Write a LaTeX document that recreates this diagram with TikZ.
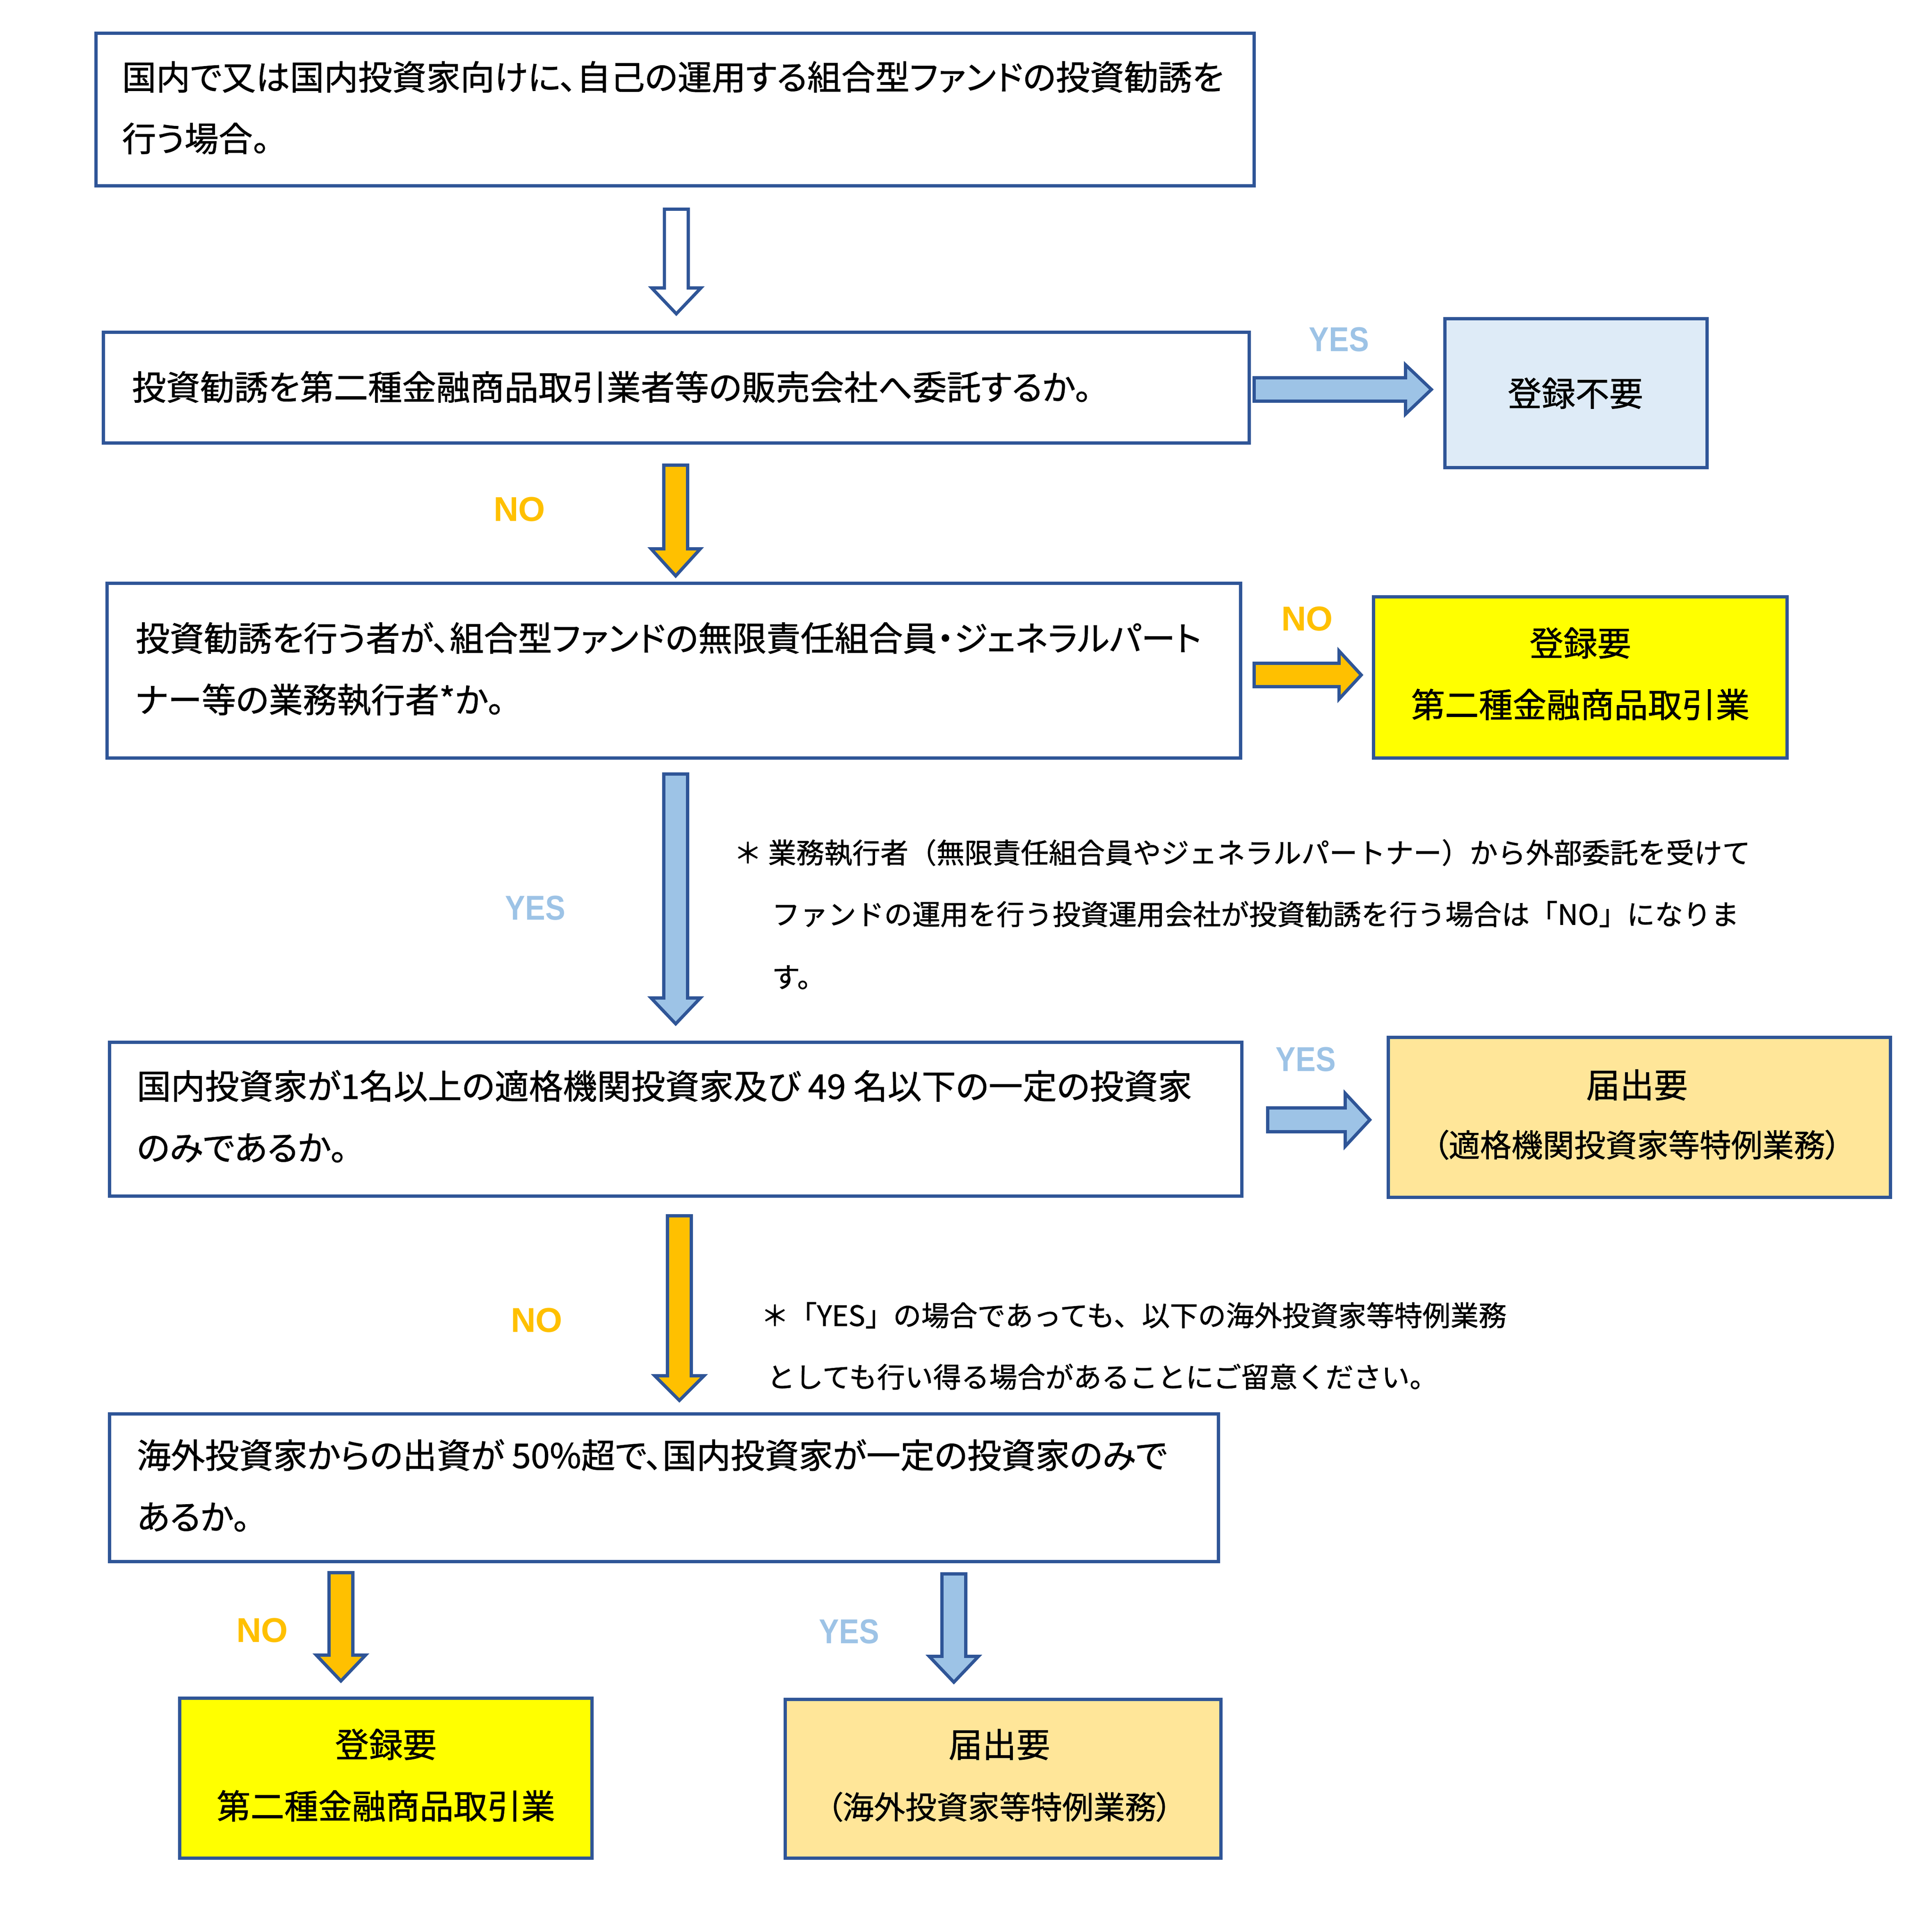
\documentclass[tikz,border=0pt]{standalone}
\usepackage{fontspec}
\setmainfont{Noto Sans CJK JP}[RawFeature=+palt, FakeBold=1]
\newfontfamily\notefont{Noto Sans CJK JP}[FakeBold=1]
\newfontfamily\lblfont{Liberation Sans Bold}
\newfontfamily\yesfont{Liberation Sans Bold}[FakeStretch=0.87]
\usetikzlibrary{fit}
\definecolor{dblue}{HTML}{2F5597}
\definecolor{lblue}{HTML}{9DC3E6}
\definecolor{aorange}{HTML}{FFC000}
\definecolor{boxlb}{HTML}{DEEBF7}
\definecolor{byellow}{HTML}{FFFF00}
\definecolor{peach}{HTML}{FFE699}
\tikzset{
  box/.style={draw=dblue, line width=2.6pt, inner sep=0pt},
  jtxt/.style={anchor=base west, inner sep=0pt, font=\fontsize{27.7}{27.7}\selectfont},
  ctxt/.style={anchor=base, inner sep=0pt, font=\fontsize{27.5}{27.5}\selectfont},
  csmall/.style={anchor=base, inner sep=0pt, font=\fontsize{25.5}{25.5}\selectfont},
  notetxt/.style={anchor=base west, inner sep=0pt, font=\notefont\fontsize{22.8}{22.8}\selectfont},
  yeslbl/.style={inner sep=0pt, text=lblue, font=\yesfont\fontsize{28}{28}\selectfont},
  nolbl/.style={inner sep=0pt, text=aorange, font=\lblfont\fontsize{28}{28}\selectfont},
  arr/.style={draw=dblue, line width=2.6pt, line join=miter}
}
\newcommand\darrow[5]{%
  \draw[arr, fill=#5] ({#1-9.7},{#2}) -- ({#1+9.7},{#2}) -- ({#1+9.7},{#3}) -- ({#1+20},{#3})
    -- ({#1},{#4}) -- ({#1-20},{#3}) -- ({#1-9.7},{#3}) -- cycle;}
\newcommand\rarrow[7]{%
  \draw[arr, fill=#5] ({#1},{#4-#6}) -- ({#2},{#4-#6}) -- ({#2},{#4-#7}) -- ({#3},{#4})
    -- ({#2},{#4+#7}) -- ({#2},{#4+#6}) -- ({#1},{#4+#6}) -- cycle;}
\begin{document}
\begin{tikzpicture}[x=1pt, y=-1pt]
\useasboundingbox (0,0) rectangle (1559.67,1570);
% boxes
\node[box, fill=white, fit={(78,27) (1019,151)}] (b1) {};
\node[box, fill=white, fit={(84,270) (1015,360)}] (b2) {};
\node[box, fill=boxlb, fit={(1174,259) (1387,380)}] (r1) {};
\node[box, fill=white, fit={(87,474) (1008,616)}] (b3) {};
\node[box, fill=byellow, fit={(1116,485) (1452,616)}] (r2) {};
\node[box, fill=white, fit={(89,847) (1009,972)}] (b4) {};
\node[box, fill=peach, fit={(1128,843) (1536,973)}] (r3) {};
\node[box, fill=white, fit={(89,1149) (990,1269)}] (b5) {};
\node[box, fill=byellow, fit={(146,1380) (481,1510)}] (r4) {};
\node[box, fill=peach, fit={(638,1381) (992,1510)}] (r5) {};
% box texts
\node[jtxt] (t1a) at (99,73) {国内で又は国内投資家向けに、自己の運用する組合型ファンドの投資勧誘を};
\node[jtxt] (t1b) at (99,123) {行う場合。};
\node[jtxt] (t2a) at (107,325) {投資勧誘を第二種金融商品取引業者等の販売会社へ委託するか。};
\node[jtxt] (t3a) at (110,529) {投資勧誘を行う者が、組合型ファンドの無限責任組合員・ジェネラルパート};
\node[jtxt] (t3b) at (110,579) {ナー等の業務執行者*か。};
\node[jtxt] (t4a) at (111,893) {国内投資家が1名以上の適格機関投資家及び 49 名以下の一定の投資家};
\node[jtxt] (t4b) at (111,943) {のみであるか。};
\node[jtxt] (t5a) at (111,1193) {海外投資家からの出資が 50\%超で、国内投資家が一定の投資家のみで};
\node[jtxt] (t5b) at (111,1243) {あるか。};
\node[ctxt] (tr1) at (1280,330) {登録不要};
\node[ctxt] (tr2a) at (1284,533) {登録要};
\node[ctxt] (tr2b) at (1284,583) {第二種金融商品取引業};
\node[ctxt] (tr3a) at (1330,892) {届出要};
\node[csmall] (tr3b) at (1330,940) {（適格機関投資家等特例業務）};
\node[ctxt] (tr4a) at (313.5,1428) {登録要};
\node[ctxt] (tr4b) at (313.5,1478) {第二種金融商品取引業};
\node[ctxt] (tr5a) at (812,1428) {届出要};
\node[csmall] (tr5b) at (812,1478) {（海外投資家等特例業務）};
% notes
\node[notetxt] (n1a) at (596,701.5) {＊ 業務執行者（無限責任組合員やジェネラルパートナー）から外部委託を受けて};
\node[notetxt] (n1b) at (627,751.5) {ファンドの運用を行う投資運用会社が投資勧誘を行う場合は「NO」になりま};
\node[notetxt] (n1c) at (627,802.5) {す。};
\node[notetxt] (n2a) at (618,1077.5) {＊「YES」の場合であっても、以下の海外投資家等特例業務};
\node[notetxt] (n2b) at (623,1127.5) {としても行い得る場合があることにご留意ください。};
% arrows
\darrow{549.5}{170}{234}{255}{white}
\darrow{549}{378}{446}{468}{aorange}
\darrow{549}{629}{811}{832}{lblue}
\darrow{552}{988}{1118}{1138}{aorange}
\darrow{277}{1278}{1345}{1366}{aorange}
\darrow{775}{1279}{1346}{1367}{lblue}
\rarrow{1019}{1142}{1163}{316.5}{lblue}{9.5}{20}
\rarrow{1019}{1088}{1106}{548.5}{aorange}{9.5}{19.5}
\rarrow{1030}{1093}{1113}{910}{lblue}{9.7}{21.5}
% labels
\node[yeslbl] (y1) at (1088,276) {YES};
\node[nolbl] (o1) at (422,414) {NO};
\node[nolbl] (o2) at (1062,503) {NO};
\node[yeslbl] (y2) at (435,738) {YES};
\node[yeslbl] (y3) at (1061,861) {YES};
\node[nolbl] (o3) at (436,1073) {NO};
\node[nolbl] (o4) at (213,1325) {NO};
\node[yeslbl] (y4) at (690,1326) {YES};
\end{tikzpicture}
\end{document}
